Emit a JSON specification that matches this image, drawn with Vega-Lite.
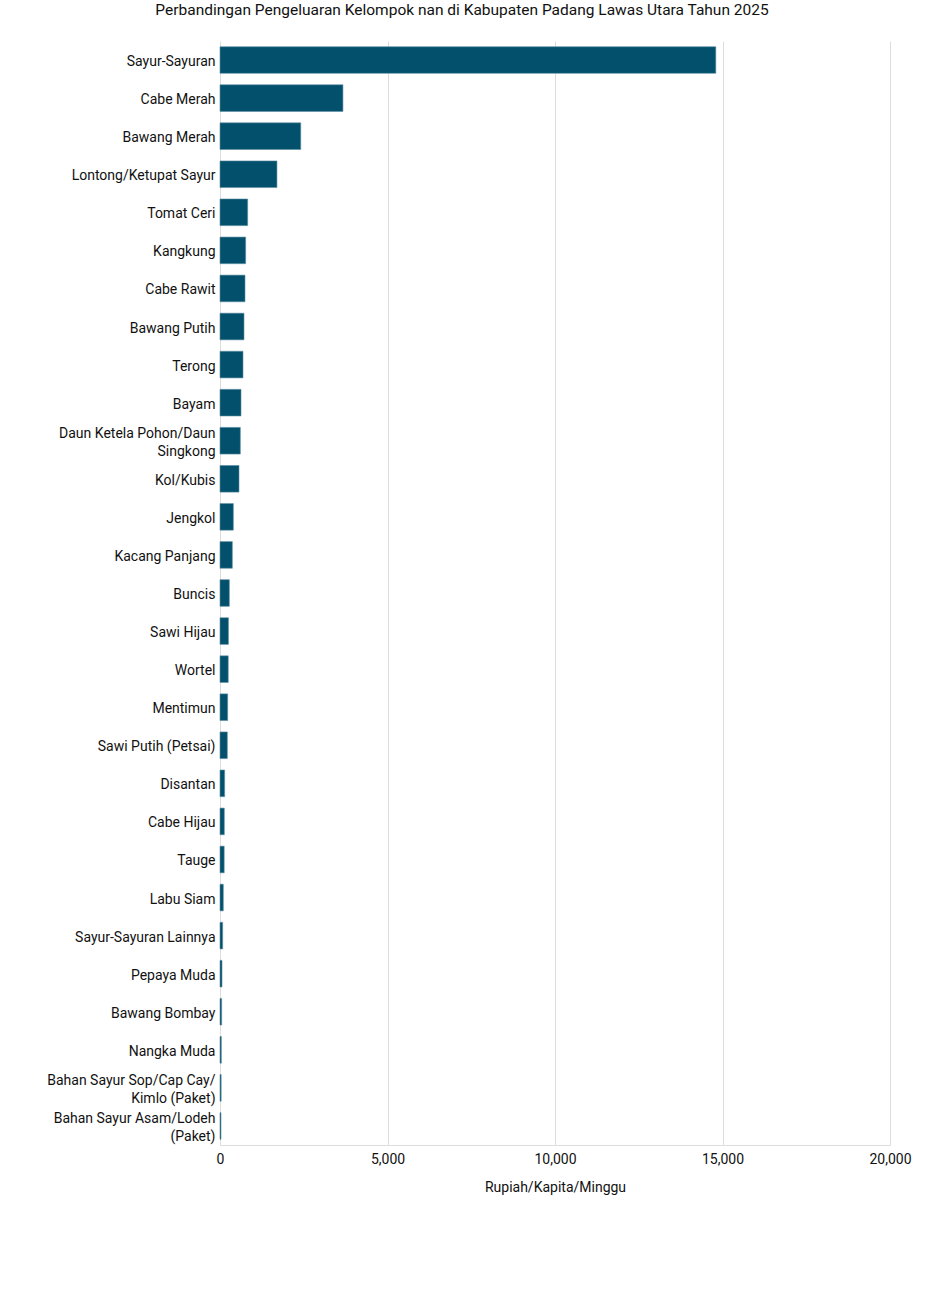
{
  "$schema": "https://vega.github.io/schema/vega-lite/v6.json",
  "autosize": "none",
  "padding": {"left": 220, "top": 41, "right": 35, "bottom": 152},
  "width": 670,
  "height": 1104,
  "background": "white",
  "title": {
    "text": "Perbandingan Pengeluaran Kelompok nan di Kabupaten Padang Lawas Utara Tahun 2025",
    "font": "Roboto",
    "fontSize": 15.5,
    "fontWeight": "normal",
    "color": "#111111",
    "anchor": "middle",
    "frame": "group",
    "dx": -93,
    "offset": 23
  },
  "config": {
    "view": {"stroke": null},
    "font": "Roboto"
  },
  "data": {
    "values": [
      {"kategori": "Sayur-Sayuran", "nilai": 14800},
      {"kategori": "Cabe Merah", "nilai": 3670},
      {"kategori": "Bawang Merah", "nilai": 2410},
      {"kategori": "Lontong/Ketupat Sayur", "nilai": 1700},
      {"kategori": "Tomat Ceri", "nilai": 826},
      {"kategori": "Kangkung", "nilai": 766},
      {"kategori": "Cabe Rawit", "nilai": 746},
      {"kategori": "Bawang Putih", "nilai": 716},
      {"kategori": "Terong", "nilai": 687},
      {"kategori": "Bayam", "nilai": 627},
      {"kategori": "Daun Ketela Pohon/Daun Singkong", "nilai": 607},
      {"kategori": "Kol/Kubis", "nilai": 567},
      {"kategori": "Jengkol", "nilai": 398},
      {"kategori": "Kacang Panjang", "nilai": 368},
      {"kategori": "Buncis", "nilai": 279},
      {"kategori": "Sawi Hijau", "nilai": 252},
      {"kategori": "Wortel", "nilai": 246},
      {"kategori": "Mentimun", "nilai": 229},
      {"kategori": "Sawi Putih (Petsai)", "nilai": 219},
      {"kategori": "Disantan", "nilai": 139},
      {"kategori": "Cabe Hijau", "nilai": 129},
      {"kategori": "Tauge", "nilai": 125},
      {"kategori": "Labu Siam", "nilai": 99},
      {"kategori": "Sayur-Sayuran Lainnya", "nilai": 80},
      {"kategori": "Pepaya Muda", "nilai": 60},
      {"kategori": "Bawang Bombay", "nilai": 50},
      {"kategori": "Nangka Muda", "nilai": 40},
      {"kategori": "Bahan Sayur Sop/Cap Cay/Kimlo (Paket)", "nilai": 35},
      {"kategori": "Bahan Sayur Asam/Lodeh (Paket)", "nilai": 30}
    ]
  },
  "mark": {"type": "bar", "color": "#02506B", "stroke": "#5E8FA3", "strokeWidth": 0.6},
  "encoding": {
    "y": {
      "field": "kategori",
      "type": "nominal",
      "sort": null,
      "scale": {"paddingInner": 0.3, "paddingOuter": 0.15},
      "axis": {
        "title": null,
        "domain": false,
        "ticks": false,
        "labelFont": "Roboto",
        "labelFontSize": 14,
        "labelColor": "#111111",
        "labelPadding": 5,
        "labelLimit": 300,
        "labelLineHeight": 18,
        "labelOffset": {
          "condition": {
            "test": "indexof(['Daun Ketela Pohon/Daun Singkong', 'Bahan Sayur Sop/Cap Cay/Kimlo (Paket)', 'Bahan Sayur Asam/Lodeh (Paket)'], datum.value) >= 0",
            "value": -7
          },
          "value": 2
        },
        "labelExpr": "datum.value == 'Daun Ketela Pohon/Daun Singkong' ? ['Daun Ketela Pohon/Daun', 'Singkong'] : datum.value == 'Bahan Sayur Sop/Cap Cay/Kimlo (Paket)' ? ['Bahan Sayur Sop/Cap Cay/', 'Kimlo (Paket)'] : datum.value == 'Bahan Sayur Asam/Lodeh (Paket)' ? ['Bahan Sayur Asam/Lodeh', '(Paket)'] : datum.value"
      }
    },
    "x": {
      "field": "nilai",
      "type": "quantitative",
      "scale": {"domain": [0, 20000], "nice": false},
      "axis": {
        "title": "Rupiah/Kapita/Minggu",
        "titleFont": "Roboto",
        "titleFontSize": 14,
        "titleFontWeight": "normal",
        "titleColor": "#111111",
        "titlePadding": 14,
        "values": [0, 5000, 10000, 15000, 20000],
        "format": ",.0f",
        "labelFont": "Roboto",
        "labelFontSize": 14,
        "labelColor": "#111111",
        "labelPadding": 7,
        "ticks": false,
        "domain": true,
        "domainColor": "#dddddd",
        "grid": true,
        "gridColor": "#dddddd",
        "labelFlush": false
      }
    }
  }
}
